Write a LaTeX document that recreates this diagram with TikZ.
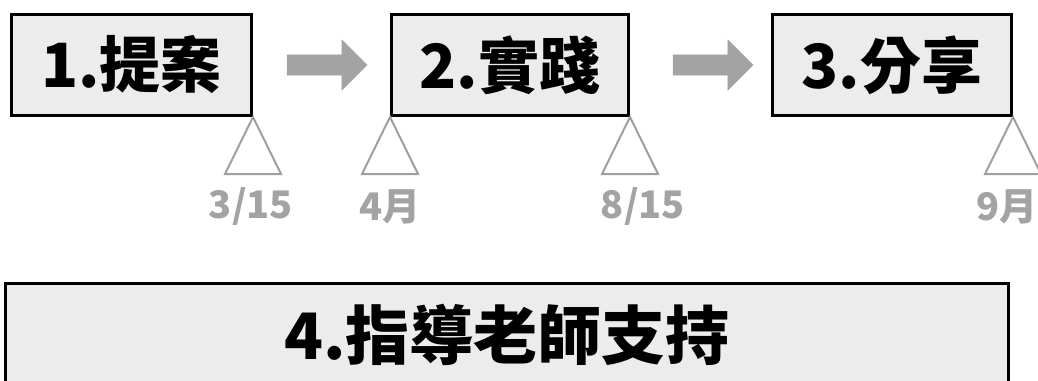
\documentclass[tikz,border=0pt]{standalone}
\usepackage{fontspec}
\newfontfamily\cjkfont{Noto Sans CJK TC}
\usetikzlibrary{shapes.arrows}
\tikzset{
  stage/.style={draw, line width=3pt, fill=gray!15, inner sep=0pt, minimum height=101pt,
    font=\cjkfont\bfseries\fontsize{61}{64}\selectfont},
  flowarrow/.style={single arrow, fill=gray!72, draw=gray!72, inner sep=0pt, inner ysep=10pt,
    minimum width=50pt, minimum height=80pt, single arrow head extend=15pt},
  marker/.style={draw=gray!75, line width=2pt, fill=white},
  datelabel/.style={text=gray!72, font=\cjkfont\bfseries\fontsize{38}{40}\selectfont}
}
\begin{document}
\begin{tikzpicture}[x=1pt,y=-1pt]
\clip (0,0) rectangle (1038,380);

\node[stage, minimum width=240pt] (propose) at (131.5,65) {1.提案};
\node[stage, minimum width=237pt] (practice) at (510,65) {2.實踐};
\node[stage, minimum width=239pt] (share) at (892,65) {3.分享};
\node[stage, minimum width=1003pt, minimum height=103pt, font=\cjkfont\bfseries\fontsize{64}{68}\selectfont]
  (support) at (507,335) {4.指導老師支持};

\node[flowarrow] (arrow1) at (322,65) {};
\node[flowarrow] (arrow2) at (708,65) {};

\draw[marker] (propose.south east) -- ++(28,57) -- ++(-56,0) -- cycle;
\draw[marker] (practice.south west) -- ++(28,57) -- ++(-56,0) -- cycle;
\draw[marker] (practice.south east) -- ++(28,57) -- ++(-56,0) -- cycle;
\draw[marker] (share.south east) -- ++(28,57) -- ++(-56,0) -- cycle;

\node[datelabel] (date1) at (251,207) {3/15};
\node[datelabel] (date2) at (390,207) {4月};
\node[datelabel] (date3) at (643,207) {8/15};
\node[datelabel] (date4) at (1007,207) {9月};

\end{tikzpicture}
\end{document}
